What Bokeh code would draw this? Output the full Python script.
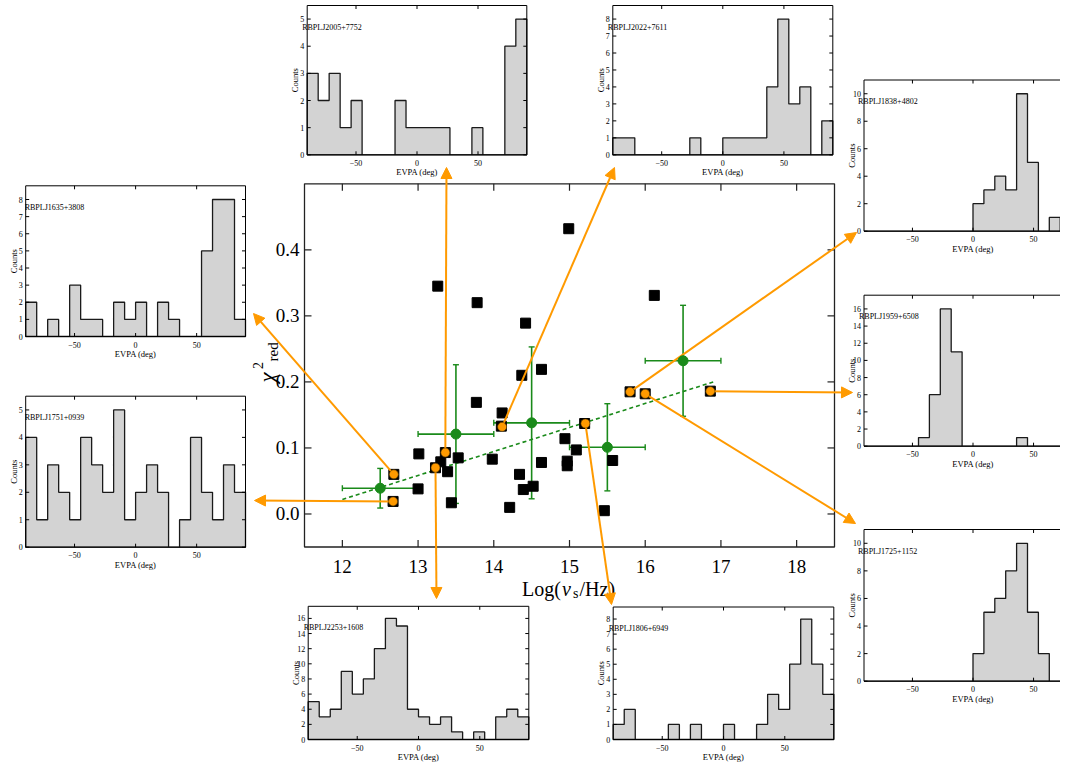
import math
from bokeh.plotting import figure
from bokeh.models import Range1d, ColumnDataSource, Arrow, NormalHead, Whisker, TeeHead
from bokeh.core.properties import value
from bokeh.embed import file_html
from bokeh.resources import INLINE

# ---------------- data ----------------
# all sources: log synchrotron peak frequency vs reduced chi^2
sq_x = [13.26, 13.78, 14.42, 13.77, 14.63, 14.37, 14.11, 14.10, 13.01, 13.36, 13.30, 13.23,
        13.39, 13.53, 13.98, 13.00, 12.68, 12.67, 13.44, 14.34, 14.39, 14.52, 14.21, 14.63,
        14.99, 16.12, 15.80, 16.00, 16.86, 15.20, 14.94, 15.09, 14.97, 14.97, 15.57, 15.46]
sq_y = [0.345, 0.320, 0.289, 0.169, 0.219, 0.210, 0.153, 0.133, 0.091, 0.093, 0.079, 0.070,
        0.064, 0.085, 0.083, 0.038, 0.060, 0.019, 0.017, 0.060, 0.037, 0.042, 0.010, 0.078,
        0.432, 0.331, 0.185, 0.182, 0.186, 0.137, 0.114, 0.097, 0.080, 0.073, 0.081, 0.005]

# highlighted sources (with EVPA histograms)
hl_names = ["RBPLJ1635+3808", "RBPLJ1751+0939", "RBPLJ2005+7752", "RBPLJ2253+1608",
            "RBPLJ2022+7611", "RBPLJ1806+6949", "RBPLJ1838+4802", "RBPLJ1725+1152",
            "RBPLJ1959+6508"]
hl_x = [12.68, 12.67, 13.36, 13.23, 14.11, 15.21, 15.80, 16.00, 16.86]
hl_y = [0.060, 0.019, 0.093, 0.070, 0.132, 0.137, 0.185, 0.182, 0.186]

# binned averages
bin_x = [12.5, 13.5, 14.5, 15.5, 16.5]
bin_xerr = [0.5, 0.5, 0.5, 0.5, 0.5]
bin_y = [0.039, 0.121, 0.138, 0.101, 0.232]
bin_yerr = [0.030, 0.105, 0.115, 0.066, 0.084]

# linear fit
fit_x = [12.0, 16.9]
fit_y = [0.022, 0.200]

xticks = [12, 13, 14, 15, 16, 17, 18]
xtick_labels = ["12", "13", "14", "15", "16", "17", "18"]
yticks = [0.0, 0.1, 0.2, 0.3, 0.4]
ytick_labels = ["0.0", "0.1", "0.2", "0.3", "0.4"]

# EVPA histograms (9-degree bins from -90 to 90)
evpa_edges = list(range(-90, 91, 9))
evpa_ticks = [-50, 0, 50]
evpa_tick_labels = ["\u221250", "0", "50"]
h1635 = [2, 0, 1, 0, 3, 1, 1, 0, 2, 1, 2, 0, 2, 1, 0, 0, 5, 8, 8, 1]
h1751 = [4, 1, 3, 2, 1, 4, 3, 2, 5, 1, 2, 3, 2, 0, 1, 4, 2, 1, 3, 2]
h2005 = [3, 2, 3, 1, 2, 0, 0, 0, 2, 1, 1, 1, 1, 0, 0, 1, 0, 0, 4, 5]
h2253 = [5, 3, 4, 9, 6, 8, 12, 16, 15, 4, 3, 2, 3, 1, 0, 1, 0, 3, 4, 3]
h2022 = [1, 1, 0, 0, 0, 0, 0, 1, 0, 0, 1, 1, 1, 1, 4, 8, 3, 4, 0, 2]
h1806 = [1, 2, 0, 0, 0, 1, 0, 1, 0, 0, 1, 0, 0, 1, 3, 2, 5, 8, 5, 3]
h1838 = [0, 0, 0, 0, 0, 0, 0, 0, 0, 0, 2, 3, 4, 3, 10, 5, 0, 1, 0, 0]
h1725 = [0, 0, 0, 0, 0, 0, 0, 0, 0, 0, 2, 5, 6, 8, 10, 5, 2, 0, 0, 0]
h1959 = [0, 0, 0, 0, 0, 1, 6, 16, 11, 0, 0, 0, 0, 0, 1, 0, 0, 0, 0, 0]
hist_counts = [h1635, h1751, h2005, h2253, h2022, h1806, h1838, h1725, h1959]
hist_ystep = [1, 1, 1, 2, 1, 1, 2, 2, 2]

# ---------------- layout (page pixels) ----------------
W, H, OFF = 1060, 764, 0
FX0, FX1, FY0, FY1 = 304.0, 834.0, 183.3, 546.5        # main frame left, right, top, bottom
XR = (11.5, 18.5)
YR = (-0.05, 0.5)
SX = (XR[1] - XR[0]) / (FX1 - FX0)
SY = (YR[1] - YR[0]) / (FY1 - FY0)


def dx(px):
    return XR[0] + (px - FX0) * SX


def dy(py):
    return YR[1] - (py - FY0) * SY


# histogram panel boxes: left, top, right, bottom ; name-label x offset
panel_box = [(25.2, 185.3, 245.0, 336.0), (25.2, 395.7, 245.0, 546.7),
             (306.7, 5.0, 526.3, 154.3), (307.7, 605.8, 528.3, 739.0),
             (612.3, 5.0, 832.3, 154.3), (612.7, 606.5, 833.3, 739.0),
             (863.5, 79.5, 1081.5, 230.7), (863.5, 529.0, 1081.5, 680.7),
             (863.5, 294.7, 1081.5, 445.7)]
name_dx = [-1, -1, -5, -4.5, -5, -4.5, -6, -6, -5]
# arrow tips (page pixels)
arrow_tip = [(253, 313), (254, 500), (446, 167), (436, 598), (614, 167),
             (611, 604), (856, 232), (855, 523), (852, 392)]

ORANGE = "#FF9A00"
GREEN = "#1a8a1a"
AX = "#222222"
FONT = value("Liberation Serif")

p = figure(width=W, height=H,
           x_range=Range1d(dx(OFF), dx(OFF + W)),
           y_range=Range1d(dy(OFF + H), dy(OFF)),
           min_border=0, toolbar_location=None, output_backend="svg",
           x_axis_location=None, y_axis_location=None)
p.outline_line_color = None
p.grid.visible = False
p.background_fill_color = "white"
p.border_fill_color = "white"

# ---------------- main panel ----------------
p.quad(left=[XR[0]], right=[XR[1]], bottom=[YR[0]], top=[YR[1]],
       fill_color=None, line_color=AX, line_width=1.3)
TK = 7.0
nx, ny = len(xticks), len(yticks)
p.segment(x0=xticks, y0=[YR[0]] * nx, x1=xticks, y1=[YR[0] + TK * SY] * nx, line_color=AX, line_width=1.2)
p.segment(x0=xticks, y0=[YR[1]] * nx, x1=xticks, y1=[YR[1] - TK * SY] * nx, line_color=AX, line_width=1.2)
p.segment(x0=[XR[0]] * ny, y0=yticks, x1=[XR[0] + TK * SX] * ny, y1=yticks, line_color=AX, line_width=1.2)
p.segment(x0=[XR[1]] * ny, y0=yticks, x1=[XR[1] - TK * SX] * ny, y1=yticks, line_color=AX, line_width=1.2)
p.text(x=xticks, y=[YR[0]] * nx, text=xtick_labels, text_align="center", text_baseline="alphabetic",
       y_offset=19, text_font=FONT, text_font_size="19px", text_color="black")
p.text(x=[XR[0]] * ny, y=yticks, text=ytick_labels, text_align="right", text_baseline="middle",
       x_offset=-5, text_font=FONT, text_font_size="19px", text_color="black")

# axis labels
xl = [("Log(", 521.5, 588.3, "20px", "normal"), ("\u03bd", 561.5, 588.3, "20px", "italic"),
      ("s", 572.5, 592.5, "14px", "normal"), ("/Hz)", 579.0, 588.3, "20px", "normal")]
for t, px, py, fs, st in xl:
    p.text(x=[dx(px)], y=[dy(py)], text=[t], text_align="left", text_baseline="alphabetic",
           text_font=FONT, text_font_size=fs, text_font_style=st, text_color="black")
yl = [("\u03c7", 267.0, 382.0, "23px", "italic"), ("2", 257.5, 368.5, "14px", "normal"),
      ("red", 272.0, 361.0, "15px", "normal")]
for t, px, py, fs, st in yl:
    p.text(x=[dx(px)], y=[dy(py)], text=[t], angle=math.pi / 2, text_align="left",
           text_baseline="alphabetic", text_font=FONT, text_font_size=fs,
           text_font_style=st, text_color="black")

# fit line
p.line(fit_x, fit_y, line_color=GREEN, line_width=1.6, line_dash="4 3")

# error bars
eb = ColumnDataSource(dict(
    x=bin_x, y=bin_y,
    xl=[a - b for a, b in zip(bin_x, bin_xerr)], xu=[a + b for a, b in zip(bin_x, bin_xerr)],
    yl=[a - b for a, b in zip(bin_y, bin_yerr)], yu=[a + b for a, b in zip(bin_y, bin_yerr)]))
p.add_layout(Whisker(source=eb, base="x", lower="yl", upper="yu", dimension="height",
                     line_color=GREEN, line_width=1.6,
                     lower_head=TeeHead(size=6, line_color=GREEN, line_width=1.4),
                     upper_head=TeeHead(size=6, line_color=GREEN, line_width=1.4)))
p.add_layout(Whisker(source=eb, base="y", lower="xl", upper="xu", dimension="width",
                     line_color=GREEN, line_width=1.6,
                     lower_head=TeeHead(size=6, line_color=GREEN, line_width=1.4),
                     upper_head=TeeHead(size=6, line_color=GREEN, line_width=1.4)))

# all sources
p.scatter(sq_x, sq_y, marker="square", size=10, fill_color="black", line_color="black")

# arrows to histograms
arr = ColumnDataSource(dict(xs=hl_x, ys=hl_y,
                            xe=[dx(a) for a, b in arrow_tip], ye=[dy(b) for a, b in arrow_tip]))
p.add_layout(Arrow(source=arr, x_start="xs", y_start="ys", x_end="xe", y_end="ye",
                   line_color=ORANGE, line_width=2,
                   end=NormalHead(size=11, fill_color=ORANGE, line_color=ORANGE, line_width=1)))

p.scatter(bin_x, bin_y, size=10, fill_color=GREEN, line_color=GREEN, level="overlay")
p.scatter(hl_x, hl_y, size=9, fill_color=ORANGE, line_color="#5a3a00", line_width=0.6, level="overlay")

# ---------------- EVPA histogram panels ----------------
HT = 3.5
for name, counts, box, ystep, ndx in zip(hl_names, hist_counts, panel_box, hist_ystep, name_dx):
    L, T, R, B = box
    ymax = 1.1 * max(counts)
    sub = p.subplot(x_source=Range1d(-90, 90), y_source=Range1d(0, ymax),
                    x_target=Range1d(dx(L), dx(R)), y_target=Range1d(dy(B), dy(T)))
    hx = 180.0 / (R - L)
    hy = ymax / (B - T)
    xs, ys = [evpa_edges[0]], [0]
    for i, c in enumerate(counts):
        xs += [evpa_edges[i], evpa_edges[i + 1]]
        ys += [c, c]
    xs.append(evpa_edges[-1])
    ys.append(0)
    sub.patch(xs, ys, fill_color="#d3d3d3", line_color="#1a1a1a", line_width=1.3)
    sub.quad(left=[-90], right=[90], bottom=[0], top=[ymax], fill_color=None,
             line_color="black", line_width=1)
    yt = []
    k = 0
    while k * ystep <= ymax:
        yt.append(k * ystep)
        k += 1
    nt, nyt = len(evpa_ticks), len(yt)
    sub.segment(x0=evpa_ticks, y0=[0] * nt, x1=evpa_ticks, y1=[HT * hy] * nt, line_color="black", line_width=1)
    sub.segment(x0=evpa_ticks, y0=[ymax] * nt, x1=evpa_ticks, y1=[ymax - HT * hy] * nt, line_color="black", line_width=1)
    sub.segment(x0=[-90] * nyt, y0=yt, x1=[-90 + HT * hx] * nyt, y1=yt, line_color="black", line_width=1)
    sub.segment(x0=[90] * nyt, y0=yt, x1=[90 - HT * hx] * nyt, y1=yt, line_color="black", line_width=1)
    sub.text(x=[-90] * nyt, y=yt, text=[str(v) for v in yt], text_align="right", text_baseline="middle",
             x_offset=-3, text_font=FONT, text_font_size="8px", text_color="black")
    sub.text(x=evpa_ticks, y=[0] * nt, text=evpa_tick_labels, text_align="center",
             text_baseline="alphabetic", y_offset=8, text_font=FONT, text_font_size="8px",
             text_color="black")
    sub.text(x=[0], y=[0], text=["EVPA (deg)"], text_align="center", text_baseline="alphabetic",
             y_offset=17.5, text_font=FONT, text_font_size="8.5px", text_color="black")
    sub.text(x=[-90], y=[ymax / 2], text=["Counts"], angle=math.pi / 2, text_align="center",
             text_baseline="middle", x_offset=-12, text_font=FONT, text_font_size="8.5px",
             text_color="black")
    sub.text(x=[-90], y=[ymax], text=[name], text_align="left", text_baseline="alphabetic",
             x_offset=ndx, y_offset=21.5, text_font=FONT, text_font_size="8px", text_color="black")

open("out.html", "w").write(file_html(p, INLINE))
